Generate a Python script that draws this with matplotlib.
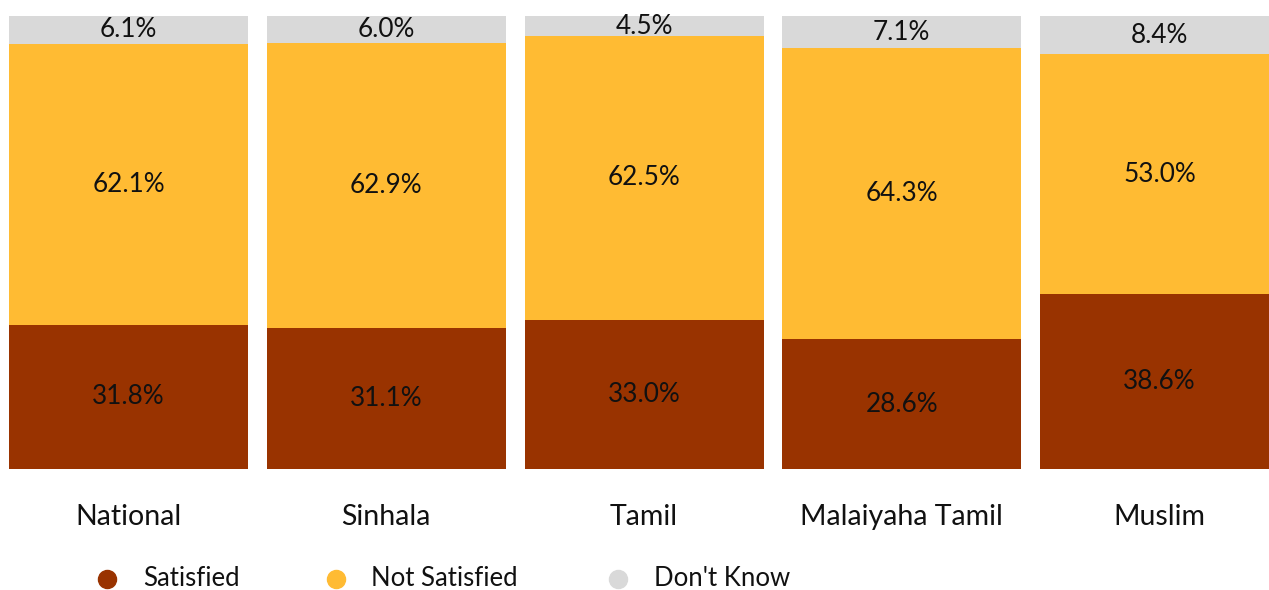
import matplotlib
matplotlib.use("Agg")
import matplotlib.pyplot as plt
from matplotlib.lines import Line2D
import numpy as np

categories = ["National", "Sinhala", "Tamil", "Malaiyaha Tamil", "Muslim"]
satisfied = [31.8, 31.1, 33.0, 28.6, 38.6]
not_satisfied = [62.1, 62.9, 62.5, 64.3, 53.0]
dont_know = [6.1, 6.0, 4.5, 7.1, 8.4]
series_names = ["Satisfied", "Not Satisfied", "Don't Know"]
colors = ["#993300", "#FFBB33", "#D9D9D9"]

plt.rcParams['font.family'] = ['Lato', 'DejaVu Sans']

W, H = 1269, 590
fig = plt.figure(figsize=(W / 100, H / 100), dpi=100)
spacing = 257.75
c0 = 128.5
ax = fig.add_axes([0, 121 / H, 1, (574 - 121) / H])
ax.set_xlim(-c0 / spacing, (W - c0) / spacing)
ax.set_ylim(0, 100)
ax.axis('off')

x = np.arange(len(categories))
bw = 239 / spacing
bottom = np.zeros(len(categories))
for vals, name, col in zip([satisfied, not_satisfied, dont_know], series_names, colors):
    vals = np.array(vals)
    ax.bar(x, vals, bw, bottom=bottom, color=col, linewidth=0, label=name)
    for xi, b, v in zip(x, bottom, vals):
        ax.text(xi, b + v / 2, f"{v:.1f}%", ha='center', va='center',
                fontsize=18.8, color='#111111')
    bottom = bottom + vals

for xi, c in zip(x, categories):
    ax.text(xi, -10.5, c, ha='center', va='center', fontsize=20.5, color='#111111')

# legend (manual placement)
marker_x = [107, 336, 618]
text_x = [143, 371, 654]
ly = 1 - 579 / H
for mx, tx, name, col in zip(marker_x, text_x, series_names, colors):
    fig.add_artist(Line2D([mx / W], [ly], marker='o', linestyle='', markersize=13,
                          markerfacecolor=col, markeredgecolor=col,
                          transform=fig.transFigure))
    fig.text(tx / W, ly, name, ha='left', va='center', fontsize=18.5, color='#111111')

fig.savefig("out.png", dpi=100)
